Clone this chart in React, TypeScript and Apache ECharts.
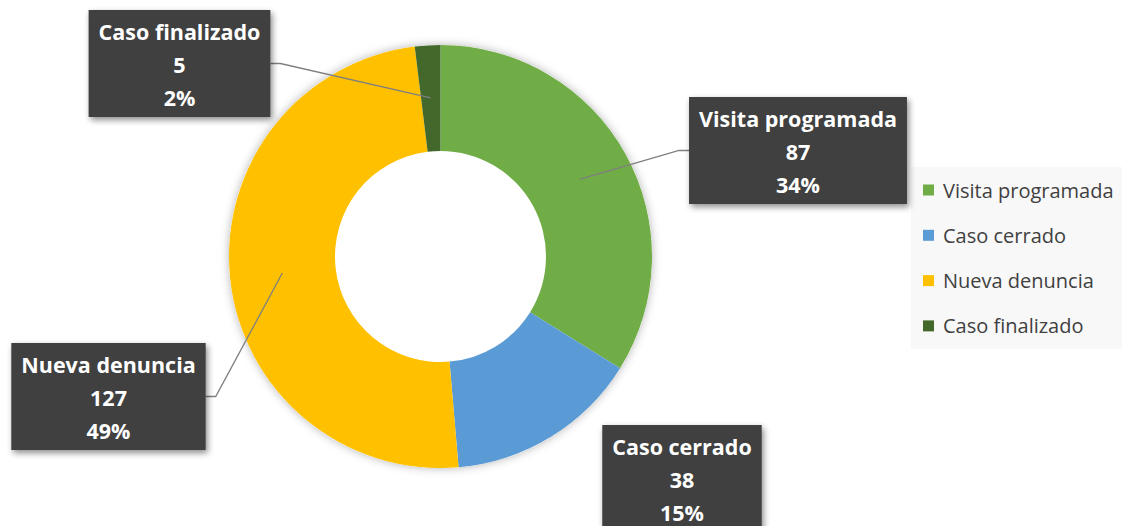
import React, { useEffect, useRef } from "react";
import * as echarts from "echarts";

const categories = ["Visita programada", "Caso cerrado", "Nueva denuncia", "Caso finalizado"];
const values = [87, 38, 127, 5];
const colors = ["#70AD47", "#5B9BD5", "#FFC000", "#43682B"];
// label box placement (center x, top y) — layout only
const labelBoxes = [
  { x: 798, y: 97 },
  { x: 682, y: 425 },
  { x: 108.5, y: 343 },
  { x: 179.5, y: 10 },
];
const showLine = [true, false, true, true];

export default function App() {
  const ref = useRef<HTMLDivElement>(null);
  useEffect(() => {
    if (!ref.current) return;
    const chart = echarts.init(ref.current, undefined, { renderer: "svg" });
    const center = [440.5, 256.5];
    const option: any = {
      animation: false,
      backgroundColor: "#ffffff",
      legend: {
        orient: "vertical",
        left: 911,
        top: 167,
        backgroundColor: "#f8f8f8",
        padding: [13, 14, 13, 12],
        itemWidth: 11,
        itemHeight: 11,
        itemGap: 25.3,
        icon: "rect",
        selectedMode: false,
        textStyle: {
          fontFamily: "Open Sans",
          fontSize: 20,
          color: "#404040",
          padding: [0, 0, 0, 4],
        },
        data: categories.map((n, i) => ({ name: n, itemStyle: { color: colors[i] } })),
      },
      series: [
        {
          type: "pie",
          name: "shadow",
          silent: true,
          z: 1,
          center,
          radius: [0, 211.5],
          label: { show: false },
          labelLine: { show: false },
          itemStyle: {
            color: "#ffffff",
            shadowBlur: 10,
            shadowColor: "rgba(0,0,0,0.3)",
          },
          data: [{ name: "__bg", value: 1 }],
        },
        {
          type: "pie",
          name: "main",
          silent: true,
          z: 2,
          center,
          radius: [105.5, 211.5],
          startAngle: 90,
          clockwise: true,
          label: { show: false },
          labelLine: { show: false },
          itemStyle: { borderWidth: 0 },
          data: categories.map((n, i) => ({
            name: n,
            value: values[i],
            itemStyle: { color: colors[i] },
          })),
        },
        {
          type: "pie",
          name: "labels",
          silent: true,
          z: 5,
          center,
          radius: [0, 159],
          startAngle: 90,
          clockwise: true,
          itemStyle: { color: "rgba(0,0,0,0)" },
          label: {
            show: true,
            position: "outside",
            formatter: (p: any) => `${p.name}\n${p.value}\n${Math.round(p.percent)}%`,
            color: "#ffffff",
            fontFamily: "Open Sans",
            fontWeight: "bold",
            fontSize: 21.5,
            lineHeight: 33,
            align: "center",
            backgroundColor: "#404040",
            padding: [5, 10, 3, 10],
            shadowBlur: 6,
            shadowOffsetX: 2,
            shadowOffsetY: 3,
            shadowColor: "rgba(0,0,0,0.45)",
          },
          labelLine: {
            show: true,
            length: 10,
            length2: 10,
            lineStyle: { color: "#7f7f7f", width: 1.3 },
          },
          labelLayout: (params: any) => {
            const b = labelBoxes[params.dataIndex];
            return { x: b.x, y: b.y, align: "center", verticalAlign: "top" };
          },
          data: categories.map((n, i) => ({
            name: n,
            value: values[i],
            labelLine: { show: showLine[i] },
          })),
        },
      ],
    };
    chart.setOption(option);
    return () => chart.dispose();
  }, []);
  return (
    <div
      ref={ref}
      style={{ position: "absolute", left: 0, top: 0, width: 1122, height: 526 }}
    />
  );
}
